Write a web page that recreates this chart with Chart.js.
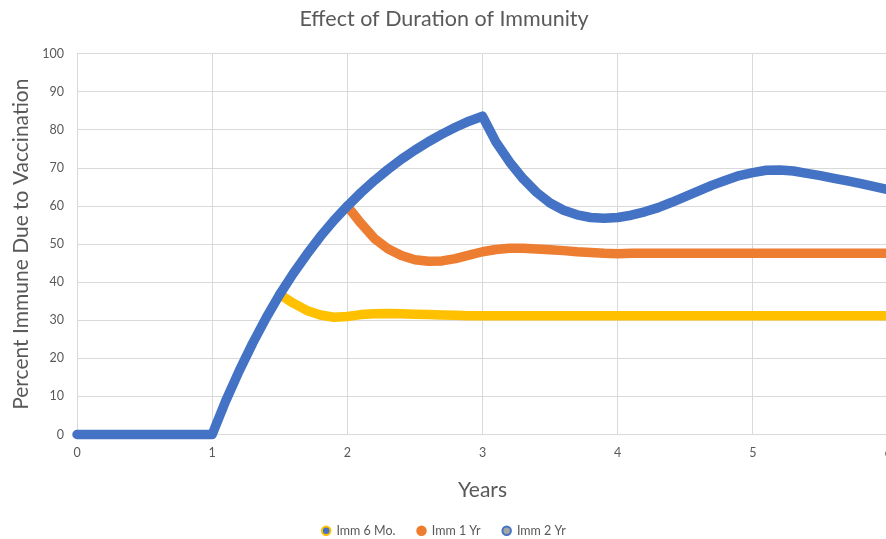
<!DOCTYPE html>
<html>
<head>
<meta charset="utf-8">
<script src="https://cdn.jsdelivr.net/npm/chart.js@4"></script>
<style>
    html, body { margin: 0; padding: 0; overflow: hidden; background: #fff; }
    #immunity-chart { display: block; }
</style>
</head>
<body>
<canvas id="immunity-chart" width="896" height="539"></canvas>
<script>
// years, every 0.1
const years = [
    0, 0.1, 0.2, 0.3, 0.4, 0.5, 0.6, 0.7, 0.8, 0.9,
    1, 1.1, 1.2, 1.3, 1.4, 1.5, 1.6, 1.7, 1.8, 1.9,
    2, 2.1, 2.2, 2.3, 2.4, 2.5, 2.6, 2.7, 2.8, 2.9,
    3, 3.1, 3.2, 3.3, 3.4, 3.5, 3.6, 3.7, 3.8, 3.9,
    4, 4.1, 4.2, 4.3, 4.4, 4.5, 4.6, 4.7, 4.8, 4.9,
    5, 5.1, 5.2, 5.3, 5.4, 5.5, 5.6, 5.7, 5.8, 5.9,
    6
];

const imm6Mo = [
    null, null, null, null, null, null, null, null, null, null,
    null, null, null, null, null, 36.8, 34.5, 32.6, 31.4, 30.8,
    31.0, 31.5, 31.7, 31.8, 31.7, 31.6, 31.5, 31.4, 31.3, 31.2,
    31.2, 31.2, 31.2, 31.2, 31.2, 31.2, 31.2, 31.2, 31.2, 31.2,
    31.2, 31.2, 31.2, 31.2, 31.2, 31.2, 31.2, 31.2, 31.2, 31.2,
    31.2, 31.2, 31.2, 31.2, 31.2, 31.2, 31.2, 31.2, 31.2, 31.2,
    31.2
];

const imm1Yr = [
    null, null, null, null, null, null, null, null, null, null,
    null, null, null, null, null, null, null, null, null, null,
    60.0, 55.5, 51.5, 48.8, 47.0, 45.9, 45.5, 45.6, 46.2, 47.1,
    48.0, 48.6, 48.9, 48.9, 48.7, 48.5, 48.3, 48.0, 47.8, 47.6,
    47.5, 47.6, 47.6, 47.6, 47.6, 47.6, 47.6, 47.6, 47.6, 47.6,
    47.6, 47.6, 47.6, 47.6, 47.6, 47.6, 47.6, 47.6, 47.6, 47.6,
    47.6
];

const imm2Yr = [
    0, 0, 0, 0, 0, 0, 0, 0, 0, 0,
    0, 8.8, 16.7, 24.0, 30.7, 36.8, 42.3, 47.3, 52.0, 56.2,
    60.0, 63.5, 66.7, 69.6, 72.3, 74.7, 76.9, 78.9, 80.7, 82.3,
    83.6, 76.8, 71.6, 67.2, 63.6, 60.8, 58.9, 57.7, 57.0, 56.8,
    57.0, 57.6, 58.5, 59.6, 61.0, 62.5, 64.0, 65.5, 66.8, 68.0,
    68.8, 69.4, 69.5, 69.2, 68.6, 68.0, 67.3, 66.6, 65.9, 65.1,
    64.3
];

const seriesNames = ['Imm 6 Mo.', 'Imm 1 Yr', 'Imm 2 Yr'];
const seriesColors = ['#FFC000', '#ED7D31', '#4472C4'];
// odd excel legend markers: fill / ring
const markerFill = ['#4472C4', '#ED7D31', '#A5A5A5'];

const textColor = '#595959';
const gridColor = '#D9D9D9';
const fontFamily = 'Lato, "Open Sans", sans-serif';

function toPoints(values) {
    return values.map((v, i) => ({x: years[i], y: v}));
}

function makeDataset(index, values, order) {
    return {
        label: seriesNames[index],
        data: toPoints(values),
        borderColor: seriesColors[index],
        backgroundColor: seriesColors[index],
        borderWidth: 9.5,
        borderCapStyle: 'round',
        borderJoinStyle: 'round',
        pointRadius: 0,
        tension: 0,
        fill: false,
        clip: false,
        order: order
    };
}

const data = {
    datasets: [
        makeDataset(0, imm6Mo, 3),
        makeDataset(1, imm1Yr, 2),
        makeDataset(2, imm2Yr, 1)
    ]
};

const config = {
    type: 'line',
    data: data,
    options: {
        responsive: false,
        animation: false,
        layout: {
            padding: {left: 0, right: 8, top: 0, bottom: -8}
        },
        plugins: {
            title: {
                display: true,
                text: 'Effect of Duration of Immunity',
                color: textColor,
                font: {family: fontFamily, size: 21.5, weight: 'normal'},
                padding: {top: 6, bottom: 22}
            },
            legend: {
                position: 'bottom',
                labels: {
                    usePointStyle: true,
                    pointStyle: 'circle',
                    boxWidth: 8,
                    boxHeight: 6,
                    padding: 22,
                    color: textColor,
                    font: {family: fontFamily, size: 12.5},
                    sort: (a, b) => a.datasetIndex - b.datasetIndex,
                    generateLabels: function(chart) {
                        return chart.data.datasets.map((ds, i) => ({
                            text: ds.label,
                            fillStyle: markerFill[i],
                            strokeStyle: seriesColors[i],
                            lineWidth: 2,
                            pointStyle: 'circle',
                            fontColor: textColor,
                            hidden: false,
                            datasetIndex: i
                        }));
                    }
                }
            },
            tooltip: {enabled: false}
        },
        scales: {
            x: {
                type: 'linear',
                min: 0,
                max: 6,
                afterFit: (scale) => { scale.height = 68; },
                ticks: {
                    stepSize: 1,
                    padding: 0,
                    color: textColor,
                    font: {family: fontFamily, size: 12.5}
                },
                // invisible tick marks push the labels down
                grid: {color: gridColor, lineWidth: 1, drawTicks: true, tickLength: 11, tickColor: 'rgba(0,0,0,0)'},
                border: {color: gridColor},
                title: {
                    display: true,
                    text: 'Years',
                    color: textColor,
                    font: {family: fontFamily, size: 21},
                    padding: {top: 0, bottom: 0}
                }
            },
            y: {
                min: 0,
                max: 100,
                afterFit: (scale) => { scale.width = 77; },
                ticks: {
                    stepSize: 10,
                    padding: 13,
                    color: textColor,
                    font: {family: fontFamily, size: 12.5}
                },
                grid: {color: gridColor, lineWidth: 1, drawTicks: false},
                border: {display: false},
                title: {
                    display: true,
                    text: 'Percent Immune Due to Vaccination',
                    color: textColor,
                    font: {family: fontFamily, size: 21},
                    padding: {top: 9, bottom: 0}
                }
            }
        }
    }
};

const ctx = document.getElementById('immunity-chart');
let chart = new Chart(ctx, config);
</script>
</body>
</html>
